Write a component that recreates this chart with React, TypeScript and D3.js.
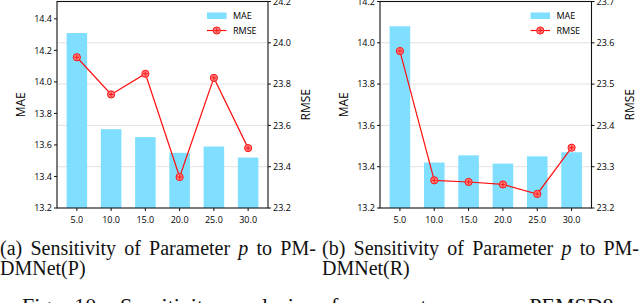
import React from 'react';
import * as d3 from 'd3';

// x categories (parameter p)
const categories = ['5.0', '10.0', '15.0', '20.0', '25.0', '30.0'];

// (a) PM-DMNet(P)
const maeP = [14.31, 13.7, 13.65, 13.55, 13.59, 13.52];
const rmseP = [23.93, 23.75, 23.85, 23.35, 23.83, 23.49];
const maeTicksP = [13.2, 13.4, 13.6, 13.8, 14.0, 14.2, 14.4];
const rmseTicksP = [23.2, 23.4, 23.6, 23.8, 24.0, 24.2];

// (b) PM-DMNet(R)
const maeR = [14.08, 13.42, 13.455, 13.415, 13.45, 13.47];
const rmseR = [23.58, 23.267, 23.263, 23.257, 23.234, 23.346];
const maeTicksR = [13.2, 13.4, 13.6, 13.8, 14.0, 14.2];
const rmseTicksR = [23.2, 23.3, 23.4, 23.5, 23.6, 23.7];

const BAR = '#80dfff';
const LINE = '#ff1010';
const SANS = '"Open Sans", "Noto Sans", sans-serif';
const SERIF = '"Liberation Serif", "Times New Roman", serif';

const fmt = d3.format('.1f');

const Marker = ({ cx, cy }) => (
  <g>
    <circle cx={cx} cy={cy} r={3.6} fill="#ff8080" stroke={LINE} strokeWidth={1} />
    <path
      d={`M${cx - 2.3},${cy}H${cx + 2.3}M${cx},${cy - 2.3}V${cy + 2.3}`}
      stroke={LINE}
      strokeWidth={0.9}
    />
  </g>
);

const Panel = ({ left, right, top, bottom, mae, rmse, maeDomain, rmseDomain, maeTicks, rmseTicks }) => {
  const x = d3.scaleLinear().domain([-0.58, categories.length - 1 + 0.58]).range([left, right]);
  const yL = d3.scaleLinear().domain(maeDomain).range([bottom, top]);
  const yR = d3.scaleLinear().domain(rmseDomain).range([bottom, top]);
  const bw = x(0.6) - x(0);

  const line = d3
    .line<number>()
    .x((d, i) => x(i))
    .y((d) => yR(d));

  return (
    <g>
      {/* grid from the right axis */}
      {rmseTicks.slice(1, -1).map((t) => (
        <line key={t} x1={left} x2={right} y1={yR(t)} y2={yR(t)} stroke="#e2e2e2" strokeWidth={1} />
      ))}
      {mae.map((d, i) => (
        <rect key={i} x={x(i) - bw / 2} y={yL(d)} width={bw} height={bottom - yL(d)} fill={BAR} />
      ))}
      <path d={line(rmse)} fill="none" stroke={LINE} strokeWidth={1.2} />
      {rmse.map((d, i) => (
        <Marker key={i} cx={x(i)} cy={yR(d)} />
      ))}

      <rect x={left} y={top} width={right - left} height={bottom - top} fill="none" stroke="#111" strokeWidth={1.1} />

      {/* left axis */}
      {maeTicks.map((t) => (
        <g key={t}>
          <line x1={left - 3} x2={left} y1={yL(t)} y2={yL(t)} stroke="#111" />
          <text x={left - 5} y={yL(t)} dy="0.35em" textAnchor="end" fontSize={9} fontFamily={SANS} fill="#000">
            {fmt(t)}
          </text>
        </g>
      ))}
      {/* right axis */}
      {rmseTicks.map((t) => (
        <g key={t}>
          <line x1={right} x2={right + 3} y1={yR(t)} y2={yR(t)} stroke="#111" />
          <text x={right + 5} y={yR(t)} dy="0.35em" fontSize={9} fontFamily={SANS} fill="#000">
            {fmt(t)}
          </text>
        </g>
      ))}
      {/* bottom axis */}
      {categories.map((c, i) => (
        <g key={c}>
          <line x1={x(i)} x2={x(i)} y1={bottom} y2={bottom + 3} stroke="#111" />
          <text x={x(i)} y={bottom + 14.5} textAnchor="middle" fontSize={9} fontFamily={SANS} fill="#000">
            {c}
          </text>
        </g>
      ))}

      <text
        transform={`translate(${left - 32},${(top + bottom) / 2}) rotate(-90)`}
        textAnchor="middle"
        fontSize={12}
        fontFamily={SANS}
        fill="#000"
      >
        MAE
      </text>
      <text
        transform={`translate(${right + 42},${(top + bottom) / 2}) rotate(-90)`}
        textAnchor="middle"
        fontSize={12}
        fontFamily={SANS}
        fill="#000"
      >
        RMSE
      </text>

      {/* legend */}
      <g transform={`translate(${right - 61},0)`}>
        <rect x={0} y={12.5} width={19.5} height={6.5} fill={BAR} />
        <text x={26} y={19} fontSize={9} fontFamily={SANS} fill="#000">MAE</text>
        <line x1={0} x2={19.5} y1={30.5} y2={30.5} stroke={LINE} strokeWidth={1.2} />
        <Marker cx={9.75} cy={30.5} />
        <text x={26} y={34} fontSize={9} fontFamily={SANS} fill="#000">RMSE</text>
      </g>
    </g>
  );
};

const Caption = ({ x, letter, tail }) => (
  <g fontFamily={SERIF} fontSize={20} fill="#111">
    <text x={x} y={254.5} style={{ wordSpacing: '3.2px' }}>
      ({letter}) Sensitivity of Parameter <tspan fontStyle="italic">p</tspan> to PM-
    </text>
    <text x={x} y={275}>DMNet({tail})</text>
  </g>
);

export default function App() {
  return (
    <svg
      width={640}
      height={303}
      style={{ position: 'absolute', left: 0, top: 0, background: '#fff', display: 'block' }}
    >
      <Panel
        left={57}
        right={268}
        top={1.5}
        bottom={208}
        mae={maeP}
        rmse={rmseP}
        maeDomain={[13.2, 14.51]}
        rmseDomain={[23.2, 24.2]}
        maeTicks={maeTicksP}
        rmseTicks={rmseTicksP}
      />
      <Panel
        left={380}
        right={591.5}
        top={1.5}
        bottom={208}
        mae={maeR}
        rmse={rmseR}
        maeDomain={[13.2, 14.2]}
        rmseDomain={[23.2, 23.7]}
        maeTicks={maeTicksR}
        rmseTicks={rmseTicksR}
      />
      <Caption x={0} letter="a" tail="P" />
      <Caption x={322} letter="b" tail="R" />
      <text x={22} y={313} fontFamily={SERIF} fontSize={22} fill="#111" style={{ wordSpacing: '12px' }}>
        Fig. 10: Sensitivity analysis of parameter <tspan fontStyle="italic">p</tspan> on PEMSD8.
      </text>
    </svg>
  );
}
